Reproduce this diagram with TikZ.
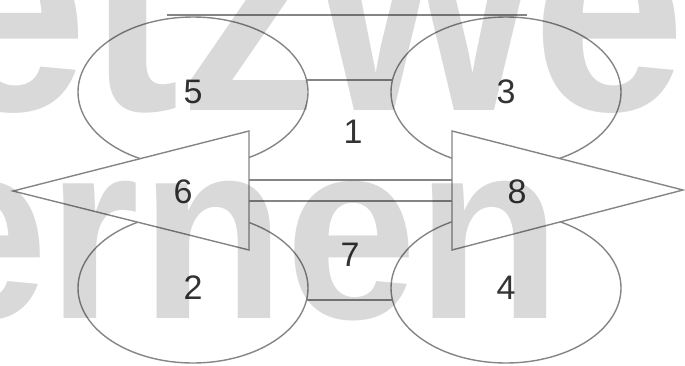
\documentclass[tikz,border=0pt]{standalone}
\usepackage{fontspec}
\setmainfont{Liberation Sans}
\usetikzlibrary{shapes.geometric}
\definecolor{edge}{HTML}{858585}
\definecolor{numc}{HTML}{333333}
\tikzset{
  blob/.style={ellipse, draw=edge, line width=1.4pt, minimum width=230pt,
    minimum height=150pt, inner sep=0pt, font=\fontsize{34}{34}\selectfont, text=numc},
  link/.style={draw=edge, line width=1.8pt},
  arrowshape/.style={draw=edge, fill=white, line width=1.4pt, line join=miter},
  numlabel/.style={font=\fontsize{34}{34}\selectfont, text=numc, inner sep=0pt},
  wm/.style={text=black, text opacity=0.15, inner sep=0pt, anchor=base west}
}
\begin{document}
\begin{tikzpicture}[x=1pt,y=-1pt]
\useasboundingbox (0,0) rectangle (685,365);
% top line
\coordinate (top1) at (167,15);
\coordinate (top2) at (527,15);
\draw[link] (top1) -- (top2);
% ellipses
\node[blob] (e5) at (193,92) {5};
\node[blob] (e3) at (506,92) {3};
\node[blob] (e2) at (193,288) {2};
\node[blob] (e4) at (506,288) {4};
\draw[link] (e5.6) -- (e3.174);
\draw[link] (e2.-6) -- (e4.186);
% triangles
\coordinate (t6tip) at (13,191);
\coordinate (t6tr) at (249,131);
\coordinate (t6br) at (249,250);
\coordinate (t8tip) at (683,190);
\coordinate (t8tl) at (452,131);
\coordinate (t8bl) at (452,250);
\draw[arrowshape] (t6tip) -- (t6tr) -- (t6br) -- cycle;
\draw[arrowshape] (t8tip) -- (t8tl) -- (t8bl) -- cycle;
\coordinate (m1a) at (249,180);
\coordinate (m1b) at (452,180);
\coordinate (m2a) at (249,201);
\coordinate (m2b) at (452,201);
\draw[link] (m1a) -- (m1b);
\draw[link] (m2a) -- (m2b);
% labels
\node[numlabel] (l6) at (183,192) {6};
\node[numlabel] (l8) at (517,192) {8};
\node[numlabel] (l1) at (353,132) {1};
\node[numlabel] (l7) at (350,255) {7};
% watermark
\node[wm, font=\fontsize{300}{300}\selectfont\bfseries] (wm1) at (-265,110) {\scalebox{0.92}[1]{Netzwerk}};
\node[wm, font=\fontsize{255}{255}\selectfont\bfseries] (wm2) at (-150,318) {\scalebox{0.93}[1]{lernen}};
\end{tikzpicture}
\end{document}
